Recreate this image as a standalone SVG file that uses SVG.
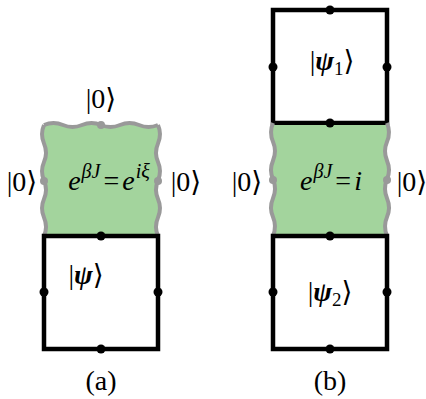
<svg xmlns="http://www.w3.org/2000/svg" width="426" height="399" viewBox="0 0 426 399">
<style>
.t{font-family:"Liberation Serif","DejaVu Serif",serif;font-size:28px;fill:#000}
.it{font-style:italic}
.b{font-weight:bold;font-style:italic}
.sup{font-size:20px;font-style:italic}
.sub{font-size:19px}
.sq{fill:none;stroke:#000;stroke-width:4.5;stroke-linecap:square}
.wv{fill:none;stroke:#999;stroke-width:4}
.g{fill:#a3d49d;stroke:none}
.dk{fill:#000}
.dg{fill:#999}
</style>
<rect width="426" height="399" fill="#fff"/>
<!-- panel a -->
<g id="a-green">
<rect class="g" x="44" y="125" width="114" height="111"/>
<path class="wv" d="M44,125 q9.5,-4 19,0 t19,0 t19,0 t19,0 t19,0 t19,0"/>
<path class="wv" d="M44,125 q-4,9.25 0,18.5 t0,18.5 t0,18.5 t0,18.5 t0,18.5 t0,18.5"/>
<path class="wv" d="M158,125 q4,9.25 0,18.5 t0,18.5 t0,18.5 t0,18.5 t0,18.5 t0,18.5"/>
<circle class="dg" cx="101" cy="125" r="4"/>
<circle class="dg" cx="44" cy="181" r="4"/>
<circle class="dg" cx="158" cy="181" r="4"/>
<text class="t" x="109" y="190" text-anchor="middle"><tspan class="it">e</tspan><tspan class="sup" dx="1" dy="-12">βJ</tspan><tspan dx="3" dy="12">=</tspan><tspan class="it" dx="3">e</tspan><tspan class="sup" dx="1" dy="-12">iξ</tspan></text>
<text class="t" x="101" y="108" text-anchor="middle">|0⟩</text>
<text class="t" x="22" y="191" text-anchor="middle">|0⟩</text>
<text class="t" x="186" y="191" text-anchor="middle">|0⟩</text>
</g>
<g id="a-psi">
<rect class="sq" x="44" y="236" width="114" height="113"/>
<circle class="dk" cx="101" cy="236" r="4.5"/>
<circle class="dk" cx="44" cy="292" r="4.5"/>
<circle class="dk" cx="158" cy="292" r="4.5"/>
<circle class="dk" cx="101" cy="349" r="4.5"/>
<text class="t" x="86" y="284" text-anchor="middle">|<tspan class="b">ψ</tspan>⟩</text>
</g>
<text class="t" x="101" y="390" text-anchor="middle">(a)</text>
<!-- panel b -->
<g id="b-psi1">
<rect class="sq" x="273" y="10" width="114" height="113"/>
<circle class="dk" cx="330" cy="10" r="4.5"/>
<circle class="dk" cx="273" cy="67" r="4.5"/>
<circle class="dk" cx="387" cy="67" r="4.5"/>
<text class="t" x="332" y="70" text-anchor="middle">|<tspan class="b">ψ</tspan><tspan class="sub" dy="5">1</tspan><tspan dy="-5">⟩</tspan></text>
</g>
<g id="b-green">
<rect class="g" x="273" y="125" width="114" height="109"/>
<path class="wv" d="M273,123 q-4,9.4 0,18.8 t0,18.8 t0,18.8 t0,18.8 t0,18.8 t0,18.8"/>
<path class="wv" d="M387,123 q4,9.4 0,18.8 t0,18.8 t0,18.8 t0,18.8 t0,18.8 t0,18.8"/>
<circle class="dg" cx="273" cy="180" r="4"/>
<circle class="dg" cx="387" cy="180" r="4"/>
<text class="t" x="331" y="190" text-anchor="middle"><tspan class="it">e</tspan><tspan class="sup" dx="1" dy="-12">βJ</tspan><tspan dx="3" dy="12">=</tspan><tspan class="it" dx="3">i</tspan></text>
<text class="t" x="247" y="191" text-anchor="middle">|0⟩</text>
<text class="t" x="412" y="191" text-anchor="middle">|0⟩</text>
</g>
<g id="b-psi2">
<rect class="sq" x="273" y="236" width="114" height="113"/>
<circle class="dk" cx="330" cy="123" r="4.5"/>
<circle class="dk" cx="330" cy="236" r="4.5"/>
<circle class="dk" cx="273" cy="292" r="4.5"/>
<circle class="dk" cx="387" cy="292" r="4.5"/>
<circle class="dk" cx="330" cy="349" r="4.5"/>
<text class="t" x="330" y="301" text-anchor="middle">|<tspan class="b">ψ</tspan><tspan class="sub" dy="5">2</tspan><tspan dy="-5">⟩</tspan></text>
</g>
<text class="t" x="330" y="390" text-anchor="middle">(b)</text>
</svg>
